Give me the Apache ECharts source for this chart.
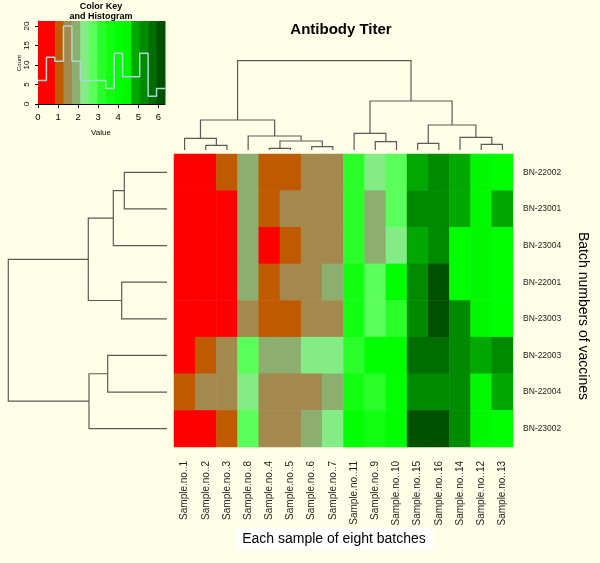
<!DOCTYPE html>
<html><head><meta charset="utf-8">
<script src="https://cdn.jsdelivr.net/npm/echarts@6/dist/echarts.min.js"></script>
<style>html,body{margin:0;padding:0;background:#fffee6;}#c{width:600px;height:563px;}</style>
</head><body><div id="c"></div>
<script>
// ---- data ----
const samples = ['Sample.no..1','Sample.no..2','Sample.no..3','Sample.no..8','Sample.no..4','Sample.no..5','Sample.no..6','Sample.no..7','Sample.no..11','Sample.no..9','Sample.no..10','Sample.no..15','Sample.no..16','Sample.no..14','Sample.no..12','Sample.no..13'];
const batches = ['BN-22002','BN-23001','BN-23004','BN-22001','BN-23003','BN-22003','BN-22004','BN-23002'];
const row_BN22002 = [0.62,0.66,1.05,1.92,1.02,1.10,1.45,1.52,3.20,2.30,2.72,4.85,5.30,4.80,4.45,4.05];
const row_BN23001 = [0.35,0.60,0.70,1.88,1.08,1.48,1.50,1.44,3.25,1.95,2.80,5.25,5.35,4.90,4.40,4.88];
const row_BN23004 = [0.28,0.32,0.68,1.90,0.64,1.06,1.52,1.47,3.15,1.98,2.35,4.82,5.28,4.05,4.42,4.10];
const row_BN22001 = [0.30,0.35,0.62,1.85,1.00,1.50,1.55,1.93,3.55,2.70,4.00,5.30,6.15,4.02,4.48,4.08];
const row_BN23003 = [0.25,0.60,0.66,1.46,1.04,1.12,1.48,1.53,3.62,2.78,3.18,5.22,6.10,5.32,4.40,4.00];
const row_BN22003 = [0.64,1.02,1.50,2.75,1.90,1.96,2.35,2.30,3.30,4.05,4.00,5.70,5.75,5.26,4.86,5.30];
const row_BN22004 = [1.06,1.44,1.52,2.28,1.47,1.55,1.49,1.88,3.70,3.12,4.10,5.25,5.30,5.35,4.45,4.90];
const row_BN23002 = [0.58,0.62,1.00,2.70,1.50,1.46,1.92,2.33,4.02,3.58,4.05,6.20,6.18,5.28,4.42,4.05];
const titerRows = [row_BN22002,row_BN23001,row_BN23004,row_BN22001,row_BN23003,row_BN22003,row_BN22004,row_BN23002];

// colour key breaks and histogram counts
const keyBreaks = [0,0.42,0.84,1.27,1.69,2.11,2.53,2.95,3.38,3.80,4.22,4.64,5.07,5.49,5.91,6.33];
const keyCounts = [6,12,11,20,11,6,6,6,4,13,7,7,13,2,4];
const keyValueTicks = [0,1,2,3,4,5,6];
const keyCountTicks = [0,5,10,15,20];

// dendrograms: [left, right, height]; negative = leaf (1-based position), positive = earlier merge (1-based)
const colMerges = [[-2,-3,4.7],[-1,1,11.7],[-5,-6,1.7],[-7,-8,3.3],[3,4,9],[-4,5,14],[2,6,30],
  [-10,-11,8.3],[-9,8,16.7],[-12,-13,6.7],[-15,-16,5.7],[-14,11,12.7],[10,12,25],[9,13,49],[7,14,89.3]];
const rowMerges = [[-1,-2,42.7],[1,-3,53.7],[-4,-5,45.3],[2,3,78.7],[-6,-7,59.3],[5,-8,78],[4,6,158.7]];

// ---- styles ----
const palette = ['#ff0000','#ff0000','#c05a00','#a3894e','#8cae6e','#84ec84','#5aff5a','#2aff2a','#12ff12','#00ff00','#00f800','#00a800','#008a00','#006e00','#005000'];
const FONT = 'Liberation Sans, Arial, sans-serif';
const lineCol = '#5a5a5a';

function dendroSegments(merges){
  const pos=[], hgt=[], segs=[];
  const ref = r => r<0 ? [-r-1, 0] : [pos[r-1], hgt[r-1]];
  merges.forEach((m,i)=>{
    const a=ref(m[0]), b=ref(m[1]);
    pos[i]=(a[0]+b[0])/2; hgt[i]=m[2];
    segs.push([a[0],a[1],b[0],b[1],m[2]]);
  });
  return segs;
}
const colSegs = dendroSegments(colMerges);
const rowSegs = dendroSegments(rowMerges);

const heatData=[];
titerRows.forEach((row,r)=>row.forEach((v,c)=>heatData.push([c,r,v])));

const pieces = palette.map((col,i)=> i<palette.length-1 ? {gte:keyBreaks[i], lt:keyBreaks[i+1], color:col} : {gte:keyBreaks[i], lte:keyBreaks[i+1]+1, color:col});

const keyRects = palette.map((c,i)=>[keyBreaks[i], keyBreaks[i+1], i]);
const histData = keyBreaks.map((b,i)=>[b, keyCounts[Math.min(i,keyCounts.length-1)]]);
const KEYMAX = 21.3;

const chart = echarts.init(document.getElementById('c'), null, {renderer:'canvas'});
chart.setOption({
  backgroundColor:'#fffee6',
  animation:false,
  textStyle:{fontFamily:FONT},
  grid:[
    {left:174, top:154, width:339, height:293},
    {left:174, top:60, width:339, height:90},
    {left:8, top:154, width:159, height:293},
    {left:38, top:21, width:127, height:83}
  ],
  xAxis:[
    {type:'category', gridIndex:0, data:samples, axisLine:{show:false}, axisTick:{show:false}, splitLine:{show:false},
     axisLabel:{rotate:90, fontSize:10, margin:14, color:'#222', fontFamily:FONT}},
    {type:'value', gridIndex:1, min:-0.5, max:15.5, show:false},
    {type:'value', gridIndex:2, min:0, max:159, inverse:true, show:false},
    {type:'value', gridIndex:3, min:0, max:keyBreaks[keyBreaks.length-1], splitLine:{show:false},
     axisLine:{show:true, onZero:false, lineStyle:{color:'#000'}},
     axisTick:{show:true, length:4, customValues:keyValueTicks, lineStyle:{color:'#000'}},
     axisLabel:{customValues:keyValueTicks, fontSize:9.5, margin:8, color:'#000', fontFamily:FONT}}
  ],
  yAxis:[
    {type:'category', gridIndex:0, data:batches, inverse:true, position:'right', axisLine:{show:false}, axisTick:{show:false}, splitLine:{show:false},
     axisLabel:{fontSize:8.5, margin:10, color:'#222', fontFamily:FONT}},
    {type:'value', gridIndex:1, min:0, max:90, show:false},
    {type:'value', gridIndex:2, min:-0.5, max:7.5, inverse:true, show:false},
    {type:'value', gridIndex:3, min:0, max:KEYMAX, splitLine:{show:false},
     axisLine:{show:true, lineStyle:{color:'#000'}},
     axisTick:{show:true, length:3, customValues:keyCountTicks, lineStyle:{color:'#000'}},
     axisLabel:{customValues:keyCountTicks, rotate:90, fontSize:8, margin:7, color:'#000', fontFamily:FONT}}
  ],
  visualMap:{type:'piecewise', show:false, dimension:2, seriesIndex:0, pieces:pieces},
  series:[
    {type:'heatmap', xAxisIndex:0, yAxisIndex:0, data:heatData, itemStyle:{borderWidth:0}, emphasis:{disabled:true}},
    {type:'custom', xAxisIndex:1, yAxisIndex:1, data:colSegs, silent:true,
     renderItem:(p,api)=>({type:'polyline', shape:{points:[api.coord([api.value(0),api.value(1)]),api.coord([api.value(0),api.value(4)]),api.coord([api.value(2),api.value(4)]),api.coord([api.value(2),api.value(3)])]}, style:{stroke:lineCol, lineWidth:1.2, fill:null}})},
    {type:'custom', xAxisIndex:2, yAxisIndex:2, data:rowSegs, silent:true,
     renderItem:(p,api)=>({type:'polyline', shape:{points:[api.coord([api.value(1),api.value(0)]),api.coord([api.value(4),api.value(0)]),api.coord([api.value(4),api.value(2)]),api.coord([api.value(3),api.value(2)])]}, style:{stroke:lineCol, lineWidth:1.2, fill:null}})},
    {type:'custom', xAxisIndex:3, yAxisIndex:3, data:keyRects, silent:true,
     renderItem:(p,api)=>{const a=api.coord([api.value(0),KEYMAX]), b=api.coord([api.value(1),0]);
       return {type:'rect', shape:{x:a[0], y:a[1], width:b[0]-a[0]+0.5, height:b[1]-a[1]}, style:{fill:palette[api.value(2)]}};}},
    {type:'line', xAxisIndex:3, yAxisIndex:3, data:histData, step:'end', symbol:'none', silent:true,
     lineStyle:{color:'#a9d8cc', width:1.5}}
  ],
  graphic:[
    {type:'text', x:341, y:30, style:{text:'Antibody Titer', font:'bold 15px '+FONT, fill:'#000', align:'center', verticalAlign:'middle'}},
    {type:'text', x:101, y:7, style:{text:'Color Key', font:'bold 9px '+FONT, fill:'#000', align:'center', verticalAlign:'middle'}},
    {type:'text', x:101, y:17, style:{text:'and Histogram', font:'bold 9px '+FONT, fill:'#000', align:'center', verticalAlign:'middle'}},
    {type:'text', x:19, y:63, rotation:Math.PI/2, style:{text:'Count', font:'6px '+FONT, fill:'#000', align:'center', verticalAlign:'middle'}},
    {type:'text', x:101, y:133, style:{text:'Value', font:'8px '+FONT, fill:'#000', align:'center', verticalAlign:'middle'}},
    {type:'text', x:334, y:539, style:{text:'Each sample of eight batches', font:'14px '+FONT, fill:'#000', align:'center', verticalAlign:'middle', backgroundColor:'#ffffff', padding:[4,7,4,7]}},
    {type:'text', x:583, y:316, rotation:-Math.PI/2, style:{text:'Batch numbers of vaccines', font:'14px '+FONT, fill:'#000', align:'center', verticalAlign:'middle'}}
  ]
});
</script></body></html>
